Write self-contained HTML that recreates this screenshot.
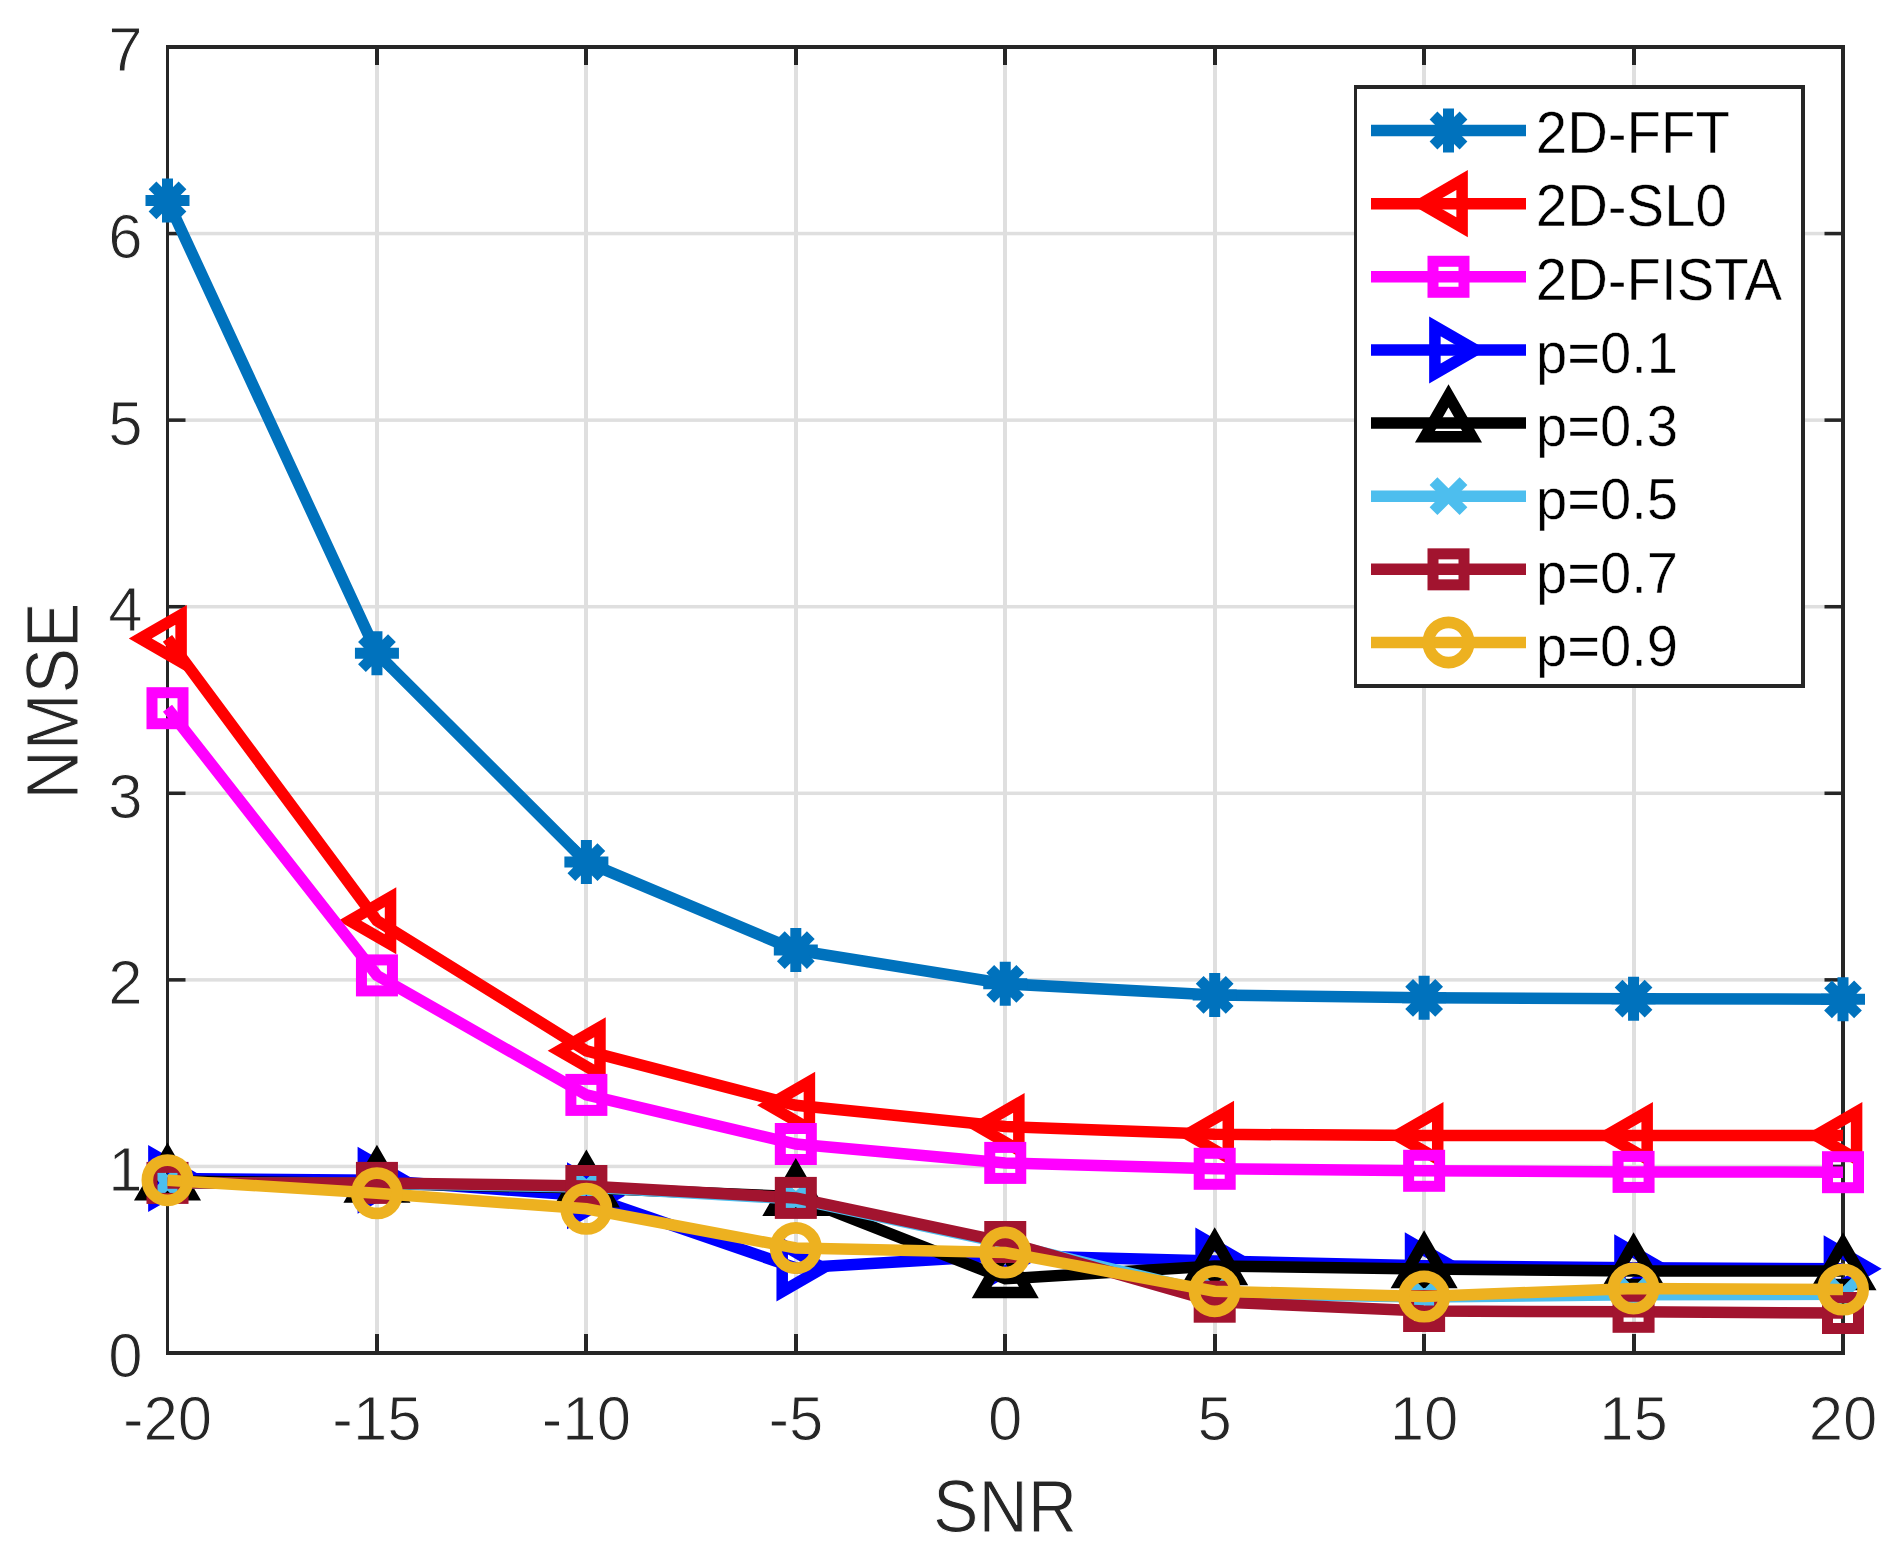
<!DOCTYPE html>
<html lang="en"><head><meta charset="utf-8"><title>NMSE versus SNR</title>
<style>html,body{margin:0;padding:0;background:#fff}body{width:1901px;height:1567px;overflow:hidden}svg{display:block}text{font-family:"Liberation Sans",Arial,Helvetica,sans-serif}</style>
</head><body>
<svg width="1901" height="1567" viewBox="0 0 1901 1567">
<rect width="1901" height="1567" fill="#fff"/>
<g fill="#dfdfdf"><rect x="375" y="49" width="4" height="1302"/><rect x="584" y="49" width="4" height="1302"/><rect x="794" y="49" width="4" height="1302"/><rect x="1003" y="49" width="4" height="1302"/><rect x="1213" y="49" width="4" height="1302"/><rect x="1422" y="49" width="4" height="1302"/><rect x="1632" y="49" width="4" height="1302"/><rect x="169" y="1164.68" width="1672" height="3.5"/><rect x="169" y="978.11" width="1672" height="3.5"/><rect x="169" y="791.54" width="1672" height="3.5"/><rect x="169" y="604.96" width="1672" height="3.5"/><rect x="169" y="418.39" width="1672" height="3.5"/><rect x="169" y="231.82" width="1672" height="3.5"/></g>
<g fill="#262626"><rect x="375" y="1334" width="4" height="19"/><rect x="375" y="47" width="4" height="18"/><rect x="584" y="1334" width="4" height="19"/><rect x="584" y="47" width="4" height="18"/><rect x="794" y="1334" width="4" height="19"/><rect x="794" y="47" width="4" height="18"/><rect x="1003" y="1334" width="4" height="19"/><rect x="1003" y="47" width="4" height="18"/><rect x="1213" y="1334" width="4" height="19"/><rect x="1213" y="47" width="4" height="18"/><rect x="1422" y="1334" width="4" height="19"/><rect x="1422" y="47" width="4" height="18"/><rect x="1632" y="1334" width="4" height="19"/><rect x="1632" y="47" width="4" height="18"/><rect x="167" y="1164.68" width="18.5" height="3.5"/><rect x="1824.5" y="1164.68" width="18.5" height="3.5"/><rect x="167" y="978.11" width="18.5" height="3.5"/><rect x="1824.5" y="978.11" width="18.5" height="3.5"/><rect x="167" y="791.54" width="18.5" height="3.5"/><rect x="1824.5" y="791.54" width="18.5" height="3.5"/><rect x="167" y="604.96" width="18.5" height="3.5"/><rect x="1824.5" y="604.96" width="18.5" height="3.5"/><rect x="167" y="418.39" width="18.5" height="3.5"/><rect x="1824.5" y="418.39" width="18.5" height="3.5"/><rect x="167" y="231.82" width="18.5" height="3.5"/><rect x="1824.5" y="231.82" width="18.5" height="3.5"/><rect x="166" y="45" width="3" height="1310"/><rect x="1841" y="45" width="4" height="1310"/><rect x="166" y="45" width="1679" height="4"/><rect x="166" y="1351" width="1679" height="4"/></g>
<text transform="translate(167.5 1440.4) scale(0.975 1)" font-size="63.3" fill="#262626" stroke="#fff" stroke-width="1" text-anchor="middle">-20</text>
<text transform="translate(376.94 1440.4) scale(0.975 1)" font-size="63.3" fill="#262626" stroke="#fff" stroke-width="1" text-anchor="middle">-15</text>
<text transform="translate(586.38 1440.4) scale(0.975 1)" font-size="63.3" fill="#262626" stroke="#fff" stroke-width="1" text-anchor="middle">-10</text>
<text transform="translate(795.81 1440.4) scale(0.975 1)" font-size="63.3" fill="#262626" stroke="#fff" stroke-width="1" text-anchor="middle">-5</text>
<text transform="translate(1005.25 1440.4) scale(0.975 1)" font-size="63.3" fill="#262626" stroke="#fff" stroke-width="1" text-anchor="middle">0</text>
<text transform="translate(1214.69 1440.4) scale(0.975 1)" font-size="63.3" fill="#262626" stroke="#fff" stroke-width="1" text-anchor="middle">5</text>
<text transform="translate(1424.12 1440.4) scale(0.975 1)" font-size="63.3" fill="#262626" stroke="#fff" stroke-width="1" text-anchor="middle">10</text>
<text transform="translate(1633.56 1440.4) scale(0.975 1)" font-size="63.3" fill="#262626" stroke="#fff" stroke-width="1" text-anchor="middle">15</text>
<text transform="translate(1843 1440.4) scale(0.975 1)" font-size="63.3" fill="#262626" stroke="#fff" stroke-width="1" text-anchor="middle">20</text>
<text transform="translate(142.6 1377.4) scale(0.975 1)" font-size="63.3" fill="#262626" stroke="#fff" stroke-width="1" text-anchor="end">0</text>
<text transform="translate(142.6 1190.83) scale(0.975 1)" font-size="63.3" fill="#262626" stroke="#fff" stroke-width="1" text-anchor="end">1</text>
<text transform="translate(142.6 1004.26) scale(0.975 1)" font-size="63.3" fill="#262626" stroke="#fff" stroke-width="1" text-anchor="end">2</text>
<text transform="translate(142.6 817.69) scale(0.975 1)" font-size="63.3" fill="#262626" stroke="#fff" stroke-width="1" text-anchor="end">3</text>
<text transform="translate(142.6 631.11) scale(0.975 1)" font-size="63.3" fill="#262626" stroke="#fff" stroke-width="1" text-anchor="end">4</text>
<text transform="translate(142.6 444.54) scale(0.975 1)" font-size="63.3" fill="#262626" stroke="#fff" stroke-width="1" text-anchor="end">5</text>
<text transform="translate(142.6 257.97) scale(0.975 1)" font-size="63.3" fill="#262626" stroke="#fff" stroke-width="1" text-anchor="end">6</text>
<text transform="translate(142.6 71.4) scale(0.975 1)" font-size="63.3" fill="#262626" stroke="#fff" stroke-width="1" text-anchor="end">7</text>
<text transform="translate(1005.1 1532.3) scale(0.93 1)" font-size="73.4" fill="#262626" stroke="#fff" stroke-width="1" text-anchor="middle">SNR</text>
<text transform="translate(77.5 701) rotate(-90) scale(0.93 1)" font-size="73.4" fill="#262626" stroke="#fff" stroke-width="1" text-anchor="middle">NMSE</text>
<g>
<path d="M167.5 200.4L376.94 653.2L586.38 862.1L795.81 950.1L1005.25 983.8L1214.69 994.9L1424.12 997.8L1633.56 998.7L1843 999.3" stroke="#0072BD" stroke-width="11.5" fill="none" stroke-linejoin="miter"/>
<path d="M145.5 200.4H189.5M167.5 178.4V222.4M152.51 185.41L182.49 215.39M152.51 215.39L182.49 185.41" stroke="#0072BD" stroke-width="11" fill="none"/>
<path d="M354.94 653.2H398.94M376.94 631.2V675.2M361.95 638.21L391.93 668.19M361.95 668.19L391.93 638.21" stroke="#0072BD" stroke-width="11" fill="none"/>
<path d="M564.38 862.1H608.38M586.38 840.1V884.1M571.38 847.11L601.37 877.09M571.38 877.09L601.37 847.11" stroke="#0072BD" stroke-width="11" fill="none"/>
<path d="M773.81 950.1H817.81M795.81 928.1V972.1M780.82 935.11L810.8 965.09M780.82 965.09L810.8 935.11" stroke="#0072BD" stroke-width="11" fill="none"/>
<path d="M983.25 983.8H1027.25M1005.25 961.8V1005.8M990.26 968.81L1020.24 998.79M990.26 998.79L1020.24 968.81" stroke="#0072BD" stroke-width="11" fill="none"/>
<path d="M1192.69 994.9H1236.69M1214.69 972.9V1016.9M1199.7 979.91L1229.68 1009.89M1199.7 1009.89L1229.68 979.91" stroke="#0072BD" stroke-width="11" fill="none"/>
<path d="M1402.12 997.8H1446.12M1424.12 975.8V1019.8M1409.13 982.81L1439.12 1012.79M1409.13 1012.79L1439.12 982.81" stroke="#0072BD" stroke-width="11" fill="none"/>
<path d="M1611.56 998.7H1655.56M1633.56 976.7V1020.7M1618.57 983.71L1648.55 1013.69M1618.57 1013.69L1648.55 983.71" stroke="#0072BD" stroke-width="11" fill="none"/>
<path d="M1821 999.3H1865M1843 977.3V1021.3M1828.01 984.31L1857.99 1014.29M1828.01 1014.29L1857.99 984.31" stroke="#0072BD" stroke-width="11" fill="none"/>
</g>
<g>
<path d="M167.5 638.4L376.94 920.7L586.38 1050.8L795.81 1105.3L1005.25 1126.5L1214.69 1134.3L1424.12 1135.5L1633.56 1135.5L1843 1135.5" stroke="#FF0000" stroke-width="11.5" fill="none" stroke-linejoin="miter"/>
<path d="M140.3 638.4L181.1 614.84L181.1 661.96Z" stroke="#FF0000" stroke-width="11.5" fill="none" stroke-linejoin="miter" stroke-miterlimit="10"/>
<path d="M349.74 920.7L390.54 897.14L390.54 944.26Z" stroke="#FF0000" stroke-width="11.5" fill="none" stroke-linejoin="miter" stroke-miterlimit="10"/>
<path d="M559.17 1050.8L599.98 1027.24L599.98 1074.36Z" stroke="#FF0000" stroke-width="11.5" fill="none" stroke-linejoin="miter" stroke-miterlimit="10"/>
<path d="M768.61 1105.3L809.41 1081.74L809.41 1128.86Z" stroke="#FF0000" stroke-width="11.5" fill="none" stroke-linejoin="miter" stroke-miterlimit="10"/>
<path d="M978.05 1126.5L1018.85 1102.94L1018.85 1150.06Z" stroke="#FF0000" stroke-width="11.5" fill="none" stroke-linejoin="miter" stroke-miterlimit="10"/>
<path d="M1187.49 1134.3L1228.29 1110.74L1228.29 1157.86Z" stroke="#FF0000" stroke-width="11.5" fill="none" stroke-linejoin="miter" stroke-miterlimit="10"/>
<path d="M1396.92 1135.5L1437.72 1111.94L1437.72 1159.06Z" stroke="#FF0000" stroke-width="11.5" fill="none" stroke-linejoin="miter" stroke-miterlimit="10"/>
<path d="M1606.36 1135.5L1647.16 1111.94L1647.16 1159.06Z" stroke="#FF0000" stroke-width="11.5" fill="none" stroke-linejoin="miter" stroke-miterlimit="10"/>
<path d="M1815.8 1135.5L1856.6 1111.94L1856.6 1159.06Z" stroke="#FF0000" stroke-width="11.5" fill="none" stroke-linejoin="miter" stroke-miterlimit="10"/>
</g>
<g>
<path d="M167.5 708.2L376.94 975.4L586.38 1094.9L795.81 1144L1005.25 1162.9L1214.69 1168.8L1424.12 1170.8L1633.56 1171.9L1843 1172.2" stroke="#FF00FF" stroke-width="11.5" fill="none" stroke-linejoin="miter"/>
<rect x="152" y="692.7" width="31" height="31" stroke="#FF00FF" stroke-width="11" fill="none"/>
<rect x="361.44" y="959.9" width="31" height="31" stroke="#FF00FF" stroke-width="11" fill="none"/>
<rect x="570.88" y="1079.4" width="31" height="31" stroke="#FF00FF" stroke-width="11" fill="none"/>
<rect x="780.31" y="1128.5" width="31" height="31" stroke="#FF00FF" stroke-width="11" fill="none"/>
<rect x="989.75" y="1147.4" width="31" height="31" stroke="#FF00FF" stroke-width="11" fill="none"/>
<rect x="1199.19" y="1153.3" width="31" height="31" stroke="#FF00FF" stroke-width="11" fill="none"/>
<rect x="1408.62" y="1155.3" width="31" height="31" stroke="#FF00FF" stroke-width="11" fill="none"/>
<rect x="1618.06" y="1156.4" width="31" height="31" stroke="#FF00FF" stroke-width="11" fill="none"/>
<rect x="1827.5" y="1156.7" width="31" height="31" stroke="#FF00FF" stroke-width="11" fill="none"/>
</g>
<g>
<path d="M167.5 1178.4L376.94 1180.3L586.38 1195.8L795.81 1268L1005.25 1255.5L1214.69 1261L1424.12 1265.8L1633.56 1267.7L1843 1268.8" stroke="#0000FF" stroke-width="11.5" fill="none" stroke-linejoin="miter"/>
<path d="M194.7 1178.4L153.9 1154.84L153.9 1201.96Z" stroke="#0000FF" stroke-width="11.5" fill="none" stroke-linejoin="miter" stroke-miterlimit="10"/>
<path d="M404.14 1180.3L363.34 1156.74L363.34 1203.86Z" stroke="#0000FF" stroke-width="11.5" fill="none" stroke-linejoin="miter" stroke-miterlimit="10"/>
<path d="M613.58 1195.8L572.77 1172.24L572.77 1219.36Z" stroke="#0000FF" stroke-width="11.5" fill="none" stroke-linejoin="miter" stroke-miterlimit="10"/>
<path d="M823.01 1268L782.21 1244.44L782.21 1291.56Z" stroke="#0000FF" stroke-width="11.5" fill="none" stroke-linejoin="miter" stroke-miterlimit="10"/>
<path d="M1032.45 1255.5L991.65 1231.94L991.65 1279.06Z" stroke="#0000FF" stroke-width="11.5" fill="none" stroke-linejoin="miter" stroke-miterlimit="10"/>
<path d="M1241.89 1261L1201.09 1237.44L1201.09 1284.56Z" stroke="#0000FF" stroke-width="11.5" fill="none" stroke-linejoin="miter" stroke-miterlimit="10"/>
<path d="M1451.33 1265.8L1410.53 1242.24L1410.53 1289.36Z" stroke="#0000FF" stroke-width="11.5" fill="none" stroke-linejoin="miter" stroke-miterlimit="10"/>
<path d="M1660.76 1267.7L1619.96 1244.14L1619.96 1291.26Z" stroke="#0000FF" stroke-width="11.5" fill="none" stroke-linejoin="miter" stroke-miterlimit="10"/>
<path d="M1870.2 1268.8L1829.4 1245.24L1829.4 1292.36Z" stroke="#0000FF" stroke-width="11.5" fill="none" stroke-linejoin="miter" stroke-miterlimit="10"/>
</g>
<g>
<path d="M167.5 1181.1L376.94 1183.4L586.38 1188.1L795.81 1196.6L1005.25 1278.8L1214.69 1266L1424.12 1269L1633.56 1271L1843 1271" stroke="#000000" stroke-width="11.5" fill="none" stroke-linejoin="miter"/>
<path d="M167.5 1153.9L143.94 1194.7L191.06 1194.7Z" stroke="#000000" stroke-width="11.5" fill="none" stroke-linejoin="miter" stroke-miterlimit="10"/>
<path d="M376.94 1156.2L353.38 1197L400.49 1197Z" stroke="#000000" stroke-width="11.5" fill="none" stroke-linejoin="miter" stroke-miterlimit="10"/>
<path d="M586.38 1160.9L562.82 1201.7L609.93 1201.7Z" stroke="#000000" stroke-width="11.5" fill="none" stroke-linejoin="miter" stroke-miterlimit="10"/>
<path d="M795.81 1169.4L772.26 1210.2L819.37 1210.2Z" stroke="#000000" stroke-width="11.5" fill="none" stroke-linejoin="miter" stroke-miterlimit="10"/>
<path d="M1005.25 1251.6L981.69 1292.4L1028.81 1292.4Z" stroke="#000000" stroke-width="11.5" fill="none" stroke-linejoin="miter" stroke-miterlimit="10"/>
<path d="M1214.69 1238.8L1191.13 1279.6L1238.24 1279.6Z" stroke="#000000" stroke-width="11.5" fill="none" stroke-linejoin="miter" stroke-miterlimit="10"/>
<path d="M1424.12 1241.8L1400.57 1282.6L1447.68 1282.6Z" stroke="#000000" stroke-width="11.5" fill="none" stroke-linejoin="miter" stroke-miterlimit="10"/>
<path d="M1633.56 1243.8L1610.01 1284.6L1657.12 1284.6Z" stroke="#000000" stroke-width="11.5" fill="none" stroke-linejoin="miter" stroke-miterlimit="10"/>
<path d="M1843 1243.8L1819.44 1284.6L1866.56 1284.6Z" stroke="#000000" stroke-width="11.5" fill="none" stroke-linejoin="miter" stroke-miterlimit="10"/>
</g>
<g>
<path d="M167.5 1182.9L376.94 1183.5L586.38 1187L795.81 1199L1005.25 1243.5L1214.69 1293.5L1424.12 1296.9L1633.56 1294.8L1843 1294.3" stroke="#4DBEEE" stroke-width="11.5" fill="none" stroke-linejoin="miter"/>
<path d="M152.51 1167.91L182.49 1197.89M152.51 1197.89L182.49 1167.91" stroke="#4DBEEE" stroke-width="11" fill="none"/>
<path d="M361.95 1168.51L391.93 1198.49M361.95 1198.49L391.93 1168.51" stroke="#4DBEEE" stroke-width="11" fill="none"/>
<path d="M571.38 1172.01L601.37 1201.99M571.38 1201.99L601.37 1172.01" stroke="#4DBEEE" stroke-width="11" fill="none"/>
<path d="M780.82 1184.01L810.8 1213.99M780.82 1213.99L810.8 1184.01" stroke="#4DBEEE" stroke-width="11" fill="none"/>
<path d="M990.26 1228.51L1020.24 1258.49M990.26 1258.49L1020.24 1228.51" stroke="#4DBEEE" stroke-width="11" fill="none"/>
<path d="M1199.7 1278.51L1229.68 1308.49M1199.7 1308.49L1229.68 1278.51" stroke="#4DBEEE" stroke-width="11" fill="none"/>
<path d="M1409.13 1281.91L1439.12 1311.89M1409.13 1311.89L1439.12 1281.91" stroke="#4DBEEE" stroke-width="11" fill="none"/>
<path d="M1618.57 1279.81L1648.55 1309.79M1618.57 1309.79L1648.55 1279.81" stroke="#4DBEEE" stroke-width="11" fill="none"/>
<path d="M1828.01 1279.31L1857.99 1309.29M1828.01 1309.29L1857.99 1279.31" stroke="#4DBEEE" stroke-width="11" fill="none"/>
</g>
<g>
<path d="M167.5 1182.9L376.94 1182.9L586.38 1186L795.81 1197.9L1005.25 1242L1214.69 1301.7L1424.12 1311L1633.56 1311.8L1843 1313" stroke="#A2142F" stroke-width="11.5" fill="none" stroke-linejoin="miter"/>
<rect x="152" y="1167.4" width="31" height="31" stroke="#A2142F" stroke-width="11" fill="none"/>
<rect x="361.44" y="1167.4" width="31" height="31" stroke="#A2142F" stroke-width="11" fill="none"/>
<rect x="570.88" y="1170.5" width="31" height="31" stroke="#A2142F" stroke-width="11" fill="none"/>
<rect x="780.31" y="1182.4" width="31" height="31" stroke="#A2142F" stroke-width="11" fill="none"/>
<rect x="989.75" y="1226.5" width="31" height="31" stroke="#A2142F" stroke-width="11" fill="none"/>
<rect x="1199.19" y="1286.2" width="31" height="31" stroke="#A2142F" stroke-width="11" fill="none"/>
<rect x="1408.62" y="1295.5" width="31" height="31" stroke="#A2142F" stroke-width="11" fill="none"/>
<rect x="1618.06" y="1296.3" width="31" height="31" stroke="#A2142F" stroke-width="11" fill="none"/>
<rect x="1827.5" y="1297.5" width="31" height="31" stroke="#A2142F" stroke-width="11" fill="none"/>
</g>
<g>
<path d="M167.5 1180.2L376.94 1193.3L586.38 1208.8L795.81 1248L1005.25 1252.5L1214.69 1291.2L1424.12 1296.6L1633.56 1288.4L1843 1289.5" stroke="#EDB120" stroke-width="11.5" fill="none" stroke-linejoin="miter"/>
<circle cx="167.5" cy="1180.2" r="20.15" stroke="#EDB120" stroke-width="11.7" fill="none"/>
<circle cx="376.94" cy="1193.3" r="20.15" stroke="#EDB120" stroke-width="11.7" fill="none"/>
<circle cx="586.38" cy="1208.8" r="20.15" stroke="#EDB120" stroke-width="11.7" fill="none"/>
<circle cx="795.81" cy="1248" r="20.15" stroke="#EDB120" stroke-width="11.7" fill="none"/>
<circle cx="1005.25" cy="1252.5" r="20.15" stroke="#EDB120" stroke-width="11.7" fill="none"/>
<circle cx="1214.69" cy="1291.2" r="20.15" stroke="#EDB120" stroke-width="11.7" fill="none"/>
<circle cx="1424.12" cy="1296.6" r="20.15" stroke="#EDB120" stroke-width="11.7" fill="none"/>
<circle cx="1633.56" cy="1288.4" r="20.15" stroke="#EDB120" stroke-width="11.7" fill="none"/>
<circle cx="1843" cy="1289.5" r="20.15" stroke="#EDB120" stroke-width="11.7" fill="none"/>
</g>
<rect x="1355.5" y="87" width="447.5" height="599" fill="#fff"/>
<g fill="#262626"><rect x="1354" y="85" width="3" height="603"/><rect x="1801" y="85" width="4" height="603"/><rect x="1354" y="85" width="451" height="4"/><rect x="1354" y="684" width="451" height="4"/></g>
<path d="M1371 130.5H1526" stroke="#0072BD" stroke-width="11.5" fill="none"/>
<path d="M1426.5 130.5H1470.5M1448.5 108.5V152.5M1433.51 115.51L1463.49 145.49M1433.51 145.49L1463.49 115.51" stroke="#0072BD" stroke-width="11" fill="none"/>
<text transform="translate(1535.8 153.3) scale(0.941 1)" font-size="59.9" fill="#000" stroke="#fff" stroke-width="0.5">2D-FFT</text>
<path d="M1371 203.64H1526" stroke="#FF0000" stroke-width="11.5" fill="none"/>
<path d="M1421.3 203.64L1462.1 180.08L1462.1 227.2Z" stroke="#FF0000" stroke-width="11.5" fill="none" stroke-linejoin="miter" stroke-miterlimit="10"/>
<text transform="translate(1535.8 226.44) scale(0.941 1)" font-size="59.9" fill="#000" stroke="#fff" stroke-width="0.5">2D-SL0</text>
<path d="M1371 276.78H1526" stroke="#FF00FF" stroke-width="11.5" fill="none"/>
<rect x="1433" y="261.28" width="31" height="31" stroke="#FF00FF" stroke-width="11" fill="none"/>
<text transform="translate(1535.8 299.58) scale(0.941 1)" font-size="59.9" fill="#000" stroke="#fff" stroke-width="0.5">2D-FISTA</text>
<path d="M1371 349.92H1526" stroke="#0000FF" stroke-width="11.5" fill="none"/>
<path d="M1475.7 349.92L1434.9 326.36L1434.9 373.48Z" stroke="#0000FF" stroke-width="11.5" fill="none" stroke-linejoin="miter" stroke-miterlimit="10"/>
<text transform="translate(1535.9 373.12) scale(0.972 1)" font-size="57.8" fill="#000" stroke="#fff" stroke-width="0.5">p=0.1</text>
<path d="M1371 423.06H1526" stroke="#000000" stroke-width="11.5" fill="none"/>
<path d="M1448.5 395.86L1424.94 436.66L1472.06 436.66Z" stroke="#000000" stroke-width="11.5" fill="none" stroke-linejoin="miter" stroke-miterlimit="10"/>
<text transform="translate(1535.9 446.26) scale(0.972 1)" font-size="57.8" fill="#000" stroke="#fff" stroke-width="0.5">p=0.3</text>
<path d="M1371 496.2H1526" stroke="#4DBEEE" stroke-width="11.5" fill="none"/>
<path d="M1433.51 481.21L1463.49 511.19M1433.51 511.19L1463.49 481.21" stroke="#4DBEEE" stroke-width="11" fill="none"/>
<text transform="translate(1535.9 519.4) scale(0.972 1)" font-size="57.8" fill="#000" stroke="#fff" stroke-width="0.5">p=0.5</text>
<path d="M1371 569.34H1526" stroke="#A2142F" stroke-width="11.5" fill="none"/>
<rect x="1433" y="553.84" width="31" height="31" stroke="#A2142F" stroke-width="11" fill="none"/>
<text transform="translate(1535.9 592.54) scale(0.972 1)" font-size="57.8" fill="#000" stroke="#fff" stroke-width="0.5">p=0.7</text>
<path d="M1371 642.48H1526" stroke="#EDB120" stroke-width="11.5" fill="none"/>
<circle cx="1448.5" cy="642.48" r="20.15" stroke="#EDB120" stroke-width="11.7" fill="none"/>
<text transform="translate(1535.9 665.68) scale(0.972 1)" font-size="57.8" fill="#000" stroke="#fff" stroke-width="0.5">p=0.9</text>
</svg>
</body></html>
